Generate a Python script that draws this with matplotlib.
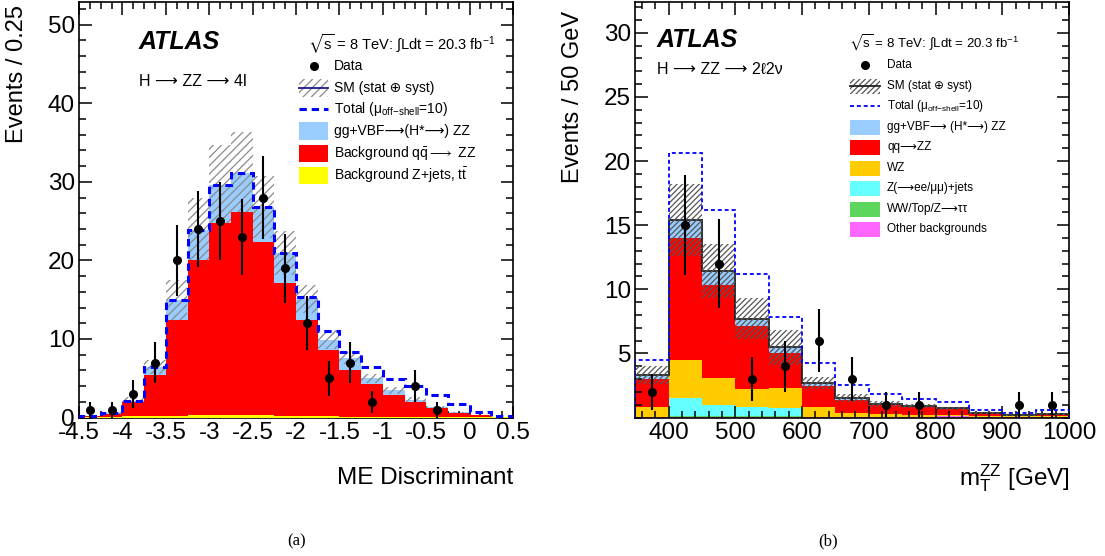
import numpy as np
import matplotlib
matplotlib.use("Agg")
import matplotlib.pyplot as plt
from matplotlib.patches import Rectangle
from matplotlib.lines import Line2D
from matplotlib.ticker import MultipleLocator, FixedLocator, FormatStrFormatter

plt.rcParams['font.family'] = ['Liberation Sans', 'DejaVu Sans']
plt.rcParams['mathtext.fontset'] = 'custom'
plt.rcParams['mathtext.rm'] = 'Liberation Sans'
plt.rcParams['mathtext.it'] = 'Liberation Sans:italic'
plt.rcParams['mathtext.bf'] = 'Liberation Sans:bold'
plt.rcParams['mathtext.fallback'] = 'stixsans'
plt.rcParams['axes.unicode_minus'] = False
plt.rcParams['hatch.linewidth'] = 0.9

# ---------------- data: (a) H -> ZZ -> 4l, ME discriminant ----------------
left_edges = [-4.5, -4.25, -4.0, -3.75, -3.5, -3.25, -3.0, -2.75, -2.5, -2.25, -2.0,
              -1.75, -1.5, -1.25, -1.0, -0.75, -0.5, -0.25, 0.0, 0.25, 0.5]
left_data = [1, 1, 3, 7, 20, 24, 25, 23, 28, 19, 12, 5, 7, 2, 0, 4, 1, 0, 0, 0]
left_zjets = [0.05, 0.1, 0.15, 0.2, 0.25, 0.3, 0.3, 0.3, 0.3, 0.25, 0.2, 0.15, 0.12,
              0.1, 0.08, 0.06, 0.05, 0.04, 0.03, 0.02]
left_qqzz = [0.15, 0.4, 1.85, 5.15, 12.15, 19.75, 24.45, 25.8, 22.1, 16.9, 12.25, 8.4,
             5.98, 4.2, 2.75, 1.92, 1.1, 0.53, 0.24, 0.08]
left_ggvbf = [0.02, 0.1, 0.15, 1.1, 2.55, 3.85, 4.8, 5.05, 4.4, 3.8, 2.65, 1.35, 1.5,
              0.7, 0.62, 0.27, 0.15, 0.08, 0.03, 0.02]
left_total10 = [0.2, 0.6, 2.15, 6.45, 14.95, 23.9, 29.55, 31.15, 26.8, 20.95, 15.3,
                11.0, 8.3, 6.4, 4.9, 4.0, 2.9, 1.72, 0.68, 0.15]
left_sm_err = [0.05, 0.1, 0.4, 0.9, 2.5, 4.1, 5.1, 5.2, 4.0, 2.8, 1.8, 1.2, 0.8, 0.6,
               0.4, 0.3, 0.2, 0.1, 0.05, 0.03]

# ---------------- data: (b) H -> ZZ -> 2l2nu, mT(ZZ) ----------------
right_edges = [350, 400, 450, 500, 550, 600, 650, 700, 750, 800, 850, 900, 950, 1000]
right_data = [2, 15, 12, 3, 4, 6, 3, 1, 1, 0, 0, 1, 1]
right_other = [0.02, 0.07, 0.06, 0.05, 0.05, 0.03, 0.03, 0.03, 0.03, 0.08, 0.04, 0.03, 0.04]
right_wwtop = [0.01, 0.06, 0.04, 0.03, 0.03, 0.01, 0.01, 0.01, 0.01, 0.01, 0.01, 0.01, 0.01]
right_zjets = [0.0, 1.42, 0.9, 0.75, 0.67, 0.0, 0.0, 0.0, 0.0, 0.0, 0.0, 0.0, 0.0]
right_wz = [0.77, 2.95, 2.1, 1.4, 1.55, 0.79, 0.28, 0.21, 0.16, 0.1, 0.07, 0.04, 0.05]
right_qqzz = [2.2, 9.5, 7.2, 4.87, 2.76, 1.64, 1.06, 0.73, 0.63, 0.44, 0.21, 0.07, 0.15]
right_ggvbf = [0.35, 1.4, 1.1, 0.6, 0.4, 0.22, 0.12, 0.07, 0.05, 0.08, 0.05, 0.02, 0.03]
right_total10 = [4.46, 20.6, 16.2, 11.16, 7.8, 4.28, 2.54, 1.8, 1.45, 1.2, 0.6, 0.37, 0.55]
right_sm_err = [0.7, 2.8, 2.1, 1.6, 1.35, 0.5, 0.3, 0.2, 0.15, 0.12, 0.08, 0.05, 0.06]

C_LBLUE = '#99ccff'
C_RED = '#ff0000'
C_YEL = '#ffff00'
C_ORANGE = '#ffcc00'
C_CYAN = '#66ffff'
C_GREEN = '#5cd65c'
C_MAG = '#ff66ff'

W, H = 1105, 556
fig = plt.figure(figsize=(W / 100, H / 100), dpi=100)


def fx(x):
    return x / W


def fy(y):
    return 1 - y / H


axL = fig.add_axes([fx(79), fy(417.5), fx(513 - 79), (417.5 - 2) / H])
axR = fig.add_axes([fx(635.3), fy(417.5), fx(1069 - 635.3), (417.5 - 2) / H])


def stack(ax, edges, comps, colors, z=1):
    e = np.asarray(edges, float)
    bottom = np.zeros(len(e) - 1)
    for vals, col in zip(comps, colors):
        top = bottom + np.asarray(vals, float)
        ax.stairs(top, e, baseline=bottom, fill=True, color=col, linewidth=0, zorder=z)
        bottom = top
    return bottom


def band(ax, edges, center, err, color, hatch, z):
    e = np.asarray(edges, float)
    c = np.asarray(center, float)
    er = np.asarray(err, float)
    ax.bar(e[:-1], 2 * er, width=np.diff(e), bottom=c - er, align='edge',
           facecolor='none', edgecolor=color, hatch=hatch, linewidth=0, zorder=z)


def data_pts(ax, edges, counts, ms):
    e = np.asarray(edges, float)
    cen = 0.5 * (e[:-1] + e[1:])
    n = np.asarray(counts, float)
    m = n > 0
    ax.errorbar(cen[m], n[m], yerr=np.sqrt(n[m]), fmt='o', color='black', ms=ms,
                elinewidth=1.5, capsize=0, zorder=6)


# ---------------- left panel ----------------
le = np.asarray(left_edges, float)
sm_left = np.asarray(left_zjets) + np.asarray(left_qqzz) + np.asarray(left_ggvbf)
axL.stairs(sm_left, le, fill=True, color=C_LBLUE, linewidth=0, zorder=1)
band(axL, le, sm_left, left_sm_err, '#8a8a8a', '////', 2)
stack(axL, le, [left_zjets, left_qqzz], [C_YEL, C_RED], z=3)
axL.stairs(left_total10, le, color='blue', lw=2.2, linestyle=(0, (2.4, 1.6)), zorder=4)
data_pts(axL, le, left_data, 5.5)

axL.set_xlim(-4.5, 0.5)
axL.set_ylim(0, 52.9)
axL.xaxis.set_major_locator(MultipleLocator(0.5))
axL.xaxis.set_minor_locator(MultipleLocator(0.125))
axL.yaxis.set_major_locator(MultipleLocator(10))
axL.yaxis.set_minor_locator(MultipleLocator(2))
axL.xaxis.set_major_formatter(FormatStrFormatter('%g'))

# ---------------- right panel ----------------
re_ = np.asarray(right_edges, float)
sm_right = stack(axR, re_, [right_other, right_wwtop, right_zjets, right_wz, right_qqzz, right_ggvbf],
                 [C_MAG, C_GREEN, C_CYAN, C_ORANGE, C_RED, C_LBLUE], z=1)
axR.stairs(sm_right, re_, color='#222222', lw=1.3, zorder=2)
band(axR, re_, sm_right, right_sm_err, '#555555', '//////', 3)
axR.stairs(right_total10, re_, color='blue', lw=1.3, linestyle=(0, (2.2, 1.6)), zorder=4)
data_pts(axR, re_, right_data, 5.5)

axR.set_xlim(350, 1000)
axR.set_ylim(0, 32.4)
axR.xaxis.set_major_locator(MultipleLocator(100))
axR.xaxis.set_minor_locator(MultipleLocator(20))
axR.yaxis.set_major_locator(FixedLocator([5, 10, 15, 20, 25, 30]))
axR.yaxis.set_minor_locator(MultipleLocator(1))

for ax in (axL, axR):
    ax.tick_params(which='both', direction='in', top=True, right=True, labelsize=17.5,
                   width=1.1)
    ax.tick_params(which='major', length=9, pad=3)
    ax.tick_params(which='minor', length=5)
    for sp in ax.spines.values():
        sp.set_linewidth(1.2)

# axis titles
fig.text(fx(513), fy(478), 'ME Discriminant', ha='right', va='center', fontsize=17.5)
fig.text(fx(1070), fy(478), r'm$_{\mathrm{T}}^{\mathrm{ZZ}}$ [GeV]', ha='right', va='center',
         fontsize=17.5)
fig.text(fx(17), fy(143), 'Events / 0.25', rotation=90, ha='center', va='bottom', fontsize=17)
fig.text(fx(573), fy(183), 'Events / 50 GeV', rotation=90, ha='center', va='bottom', fontsize=17)

# captions
fig.text(fx(297), fy(541), '(a)', ha='center', va='center', fontsize=12,
         family=['Liberation Serif', 'DejaVu Serif'])
fig.text(fx(828), fy(541), '(b)', ha='center', va='center', fontsize=12,
         family=['Liberation Serif', 'DejaVu Serif'])

# ATLAS labels
fig.text(fx(139), fy(42), 'ATLAS', fontsize=18, fontweight='bold', fontstyle='italic',
         ha='left', va='center')
fig.text(fx(139), fy(82), 'H ⟶ ZZ ⟶ 4l', fontsize=11.5, ha='left', va='center')
fig.text(fx(657), fy(40), 'ATLAS', fontsize=18, fontweight='bold', fontstyle='italic',
         ha='left', va='center')
fig.text(fx(657), fy(69), 'H ⟶ ZZ ⟶ 2ℓ2ν', fontsize=11.5, ha='left', va='center')

lumi = r'$\sqrt{\mathrm{s}}$ = 8 TeV: $\int$Ldt = 20.3 fb$^{-1}$'
fig.text(fx(308), fy(44), lumi, fontsize=10.5, ha='left', va='center')
fig.text(fx(849), fy(43), lumi, fontsize=9.5, ha='left', va='center')


# ---------------- legends (drawn by hand) ----------------
def legend(rows, x0, x1, xt, h, fs, sm_line_color, hatch_col, hatch):
    for kind, y, label, col in rows:
        yc = fy(y)
        if kind == 'dot':
            fig.add_artist(Line2D([fx((x0 + x1) / 2)], [yc], marker='o', color='black',
                                  ms=5.5, linestyle='none'))
        elif kind == 'box':
            fig.add_artist(Rectangle((fx(x0), yc - h / 2 / H), fx(x1 - x0), h / H,
                                     facecolor=col, edgecolor='none'))
        elif kind == 'hatch':
            fig.add_artist(Rectangle((fx(x0), yc - h / 2 / H), fx(x1 - x0), h / H,
                                     facecolor='none', edgecolor=hatch_col, hatch=hatch,
                                     linewidth=0))
            fig.add_artist(Line2D([fx(x0), fx(x1)], [yc, yc], color=sm_line_color, lw=1.3))
        elif kind == 'dash':
            fig.add_artist(Line2D([fx(x0), fx(x1)], [yc, yc], color='blue', lw=col[0],
                                  linestyle=(0, col[1])))
        fig.text(fx(xt), yc, label, fontsize=fs, ha='left', va='center')


total_lab = r'Total (μ$_{\mathrm{off\!-\!shell}}$=10)'
legend([
    ('dot', 66, 'Data', None),
    ('hatch', 88, 'SM (stat ⊕ syst)', None),
    ('dash', 109, total_lab, (2.2, (2.4, 1.6))),
    ('box', 131, 'gg+VBF⟶(H*⟶) ZZ', C_LBLUE),
    ('box', 153, r'Background q$\bar{\mathrm{q}}\longrightarrow$ ZZ', C_RED),
    ('box', 175, r'Background Z+jets, t$\bar{\mathrm{t}}$', C_YEL),
], 299, 328, 334, 17, 10, '#1a1a8c', '#8a8a8a', '////')

legend([
    ('dot', 65, 'Data', None),
    ('hatch', 86, 'SM (stat ⊕ syst)', None),
    ('dash', 106, total_lab, (1.3, (2.2, 1.6))),
    ('box', 127, 'gg+VBF⟶ (H*⟶) ZZ', C_LBLUE),
    ('box', 147, 'qq⟶ZZ', C_RED),
    ('box', 168, 'WZ', C_ORANGE),
    ('box', 188, 'Z(⟶ee/μμ)+jets', C_CYAN),
    ('box', 209, 'WW/Top/Z⟶ττ', C_GREEN),
    ('box', 229, 'Other backgrounds', C_MAG),
], 850, 880, 887, 15, 8.5, '#222222', '#555555', '//////')

fig.savefig('out.png', dpi=100)
